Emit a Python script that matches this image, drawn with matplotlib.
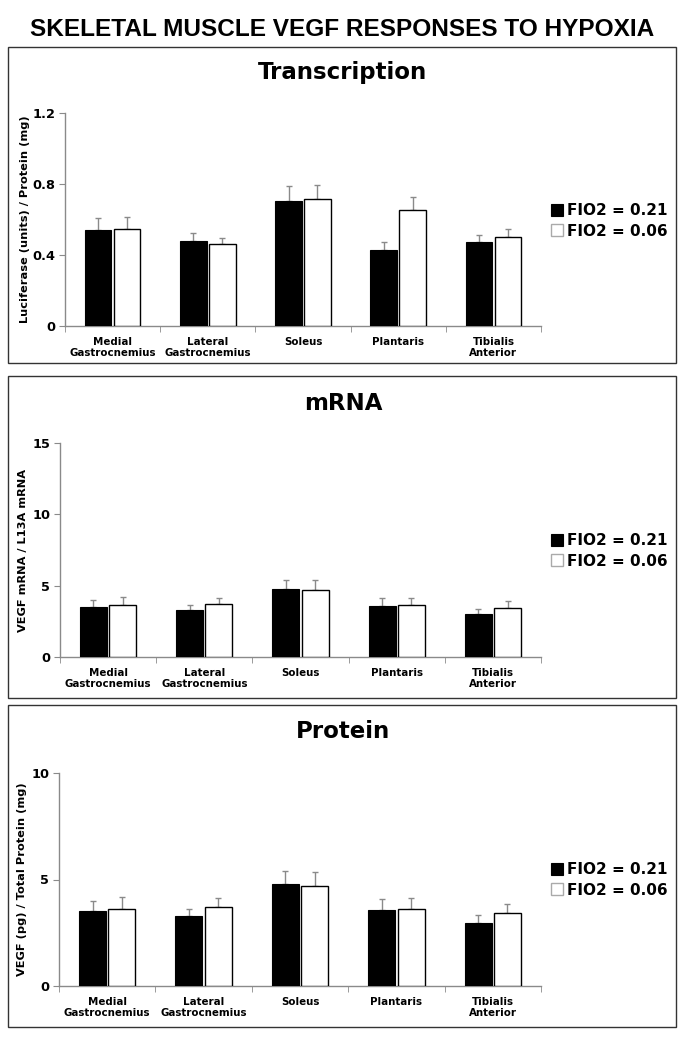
import matplotlib
matplotlib.use("Agg")
import matplotlib.pyplot as plt
from matplotlib.patches import Patch, Rectangle
import numpy as np

# ---------------- data ----------------
muscles = ["Medial\nGastrocnemius", "Lateral\nGastrocnemius", "Soleus", "Plantaris", "Tibialis\nAnterior"]
series_labels = ["FIO2 = 0.21", "FIO2 = 0.06"]

transcription_normoxia = [0.542, 0.480, 0.703, 0.427, 0.474]
transcription_normoxia_err = [0.064, 0.044, 0.088, 0.045, 0.041]
transcription_hypoxia = [0.545, 0.461, 0.718, 0.656, 0.500]
transcription_hypoxia_err = [0.070, 0.036, 0.074, 0.073, 0.045]

mrna_normoxia = [3.51, 3.32, 4.80, 3.60, 3.00]
mrna_normoxia_err = [0.49, 0.35, 0.63, 0.51, 0.37]
mrna_hypoxia = [3.63, 3.74, 4.73, 3.63, 3.44]
mrna_hypoxia_err = [0.58, 0.42, 0.68, 0.54, 0.47]

protein_normoxia = [3.50, 3.28, 4.80, 3.59, 2.98]
protein_normoxia_err = [0.47, 0.34, 0.60, 0.50, 0.36]
protein_hypoxia = [3.61, 3.70, 4.70, 3.61, 3.41]
protein_hypoxia_err = [0.58, 0.45, 0.67, 0.53, 0.45]

main_title = "SKELETAL MUSCLE VEGF RESPONSES TO HYPOXIA"
panel_titles = ["Transcription", "mRNA", "Protein"]
y_labels = ["Luciferase (units) / Protein (mg)", "VEGF mRNA / L13A mRNA", "VEGF (pg) / Total Protein (mg)"]
y_ticks = [[0, 0.4, 0.8, 1.2], [0, 5, 10, 15], [0, 5, 10]]
y_ticklabels = [["0", "0.4", "0.8", "1.2"], ["0", "5", "10", "15"], ["0", "5", "10"]]

# ---------------- layout ----------------
W, H = 684, 1050
fig = plt.figure(figsize=(W / 100, H / 100), dpi=100)
fig.patch.set_facecolor("white")

def fx(x):
    return x / W

def fy(y):
    return 1 - y / H

PF = "DejaVu Sans"
GRAY = "#8a8a8a"

fig.text(fx(342), fy(29), main_title, ha="center", va="center",
         fontsize=17.6, fontweight="bold", family="Liberation Sans")

panels = [
    dict(box=(8, 47, 676, 363), ax=(65, 113, 541, 326), title_y=73, legend_y=221, ylab_x=25),
    dict(box=(8, 376, 676, 698), ax=(60, 443, 541, 657), title_y=403, legend_y=551, ylab_x=23),
    dict(box=(8, 705, 676, 1027), ax=(59, 773, 541, 986), title_y=732, legend_y=880, ylab_x=22),
]
data = [
    (transcription_normoxia, transcription_normoxia_err, transcription_hypoxia, transcription_hypoxia_err),
    (mrna_normoxia, mrna_normoxia_err, mrna_hypoxia, mrna_hypoxia_err),
    (protein_normoxia, protein_normoxia_err, protein_hypoxia, protein_hypoxia_err),
]

x = np.arange(len(muscles))
bw = 0.28
off = 0.152

for i, p in enumerate(panels):
    bx0, by0, bx1, by1 = p["box"]
    fig.patches.append(Rectangle((fx(bx0), fy(by1)), fx(bx1 - bx0), (by1 - by0) / H,
                                 transform=fig.transFigure, fill=False,
                                 edgecolor="#333333", linewidth=1.0))
    x0, y0, x1, y1 = p["ax"]
    ax = fig.add_axes([fx(x0), fy(y1), fx(x1 - x0), (y1 - y0) / H])
    n, ne, h, he = data[i]
    zeros = [0] * len(muscles)
    ax.bar(x - off, n, bw, color="black", edgecolor="black", linewidth=0.8, zorder=3)
    ax.bar(x + off, h, bw, color="white", edgecolor="black", linewidth=1.0, zorder=3)
    ax.errorbar(x - off, n, yerr=[zeros, ne], fmt="none", ecolor=GRAY, elinewidth=1.0,
                capsize=2, capthick=1.0, zorder=2)
    ax.errorbar(x + off, h, yerr=[zeros, he], fmt="none", ecolor=GRAY, elinewidth=1.0,
                capsize=2, capthick=1.0, zorder=2)
    ax.set_xlim(-0.5, len(muscles) - 0.5)
    ax.set_ylim(y_ticks[i][0], y_ticks[i][-1])
    ax.set_yticks(y_ticks[i])
    ax.set_yticklabels(y_ticklabels[i], fontsize=9.3, fontweight="bold", family=PF)
    ax.set_xticks(x)
    ax.set_xticklabels(muscles, fontsize=7.4, fontweight="bold", family=PF, linespacing=1.15)
    ax.set_xticks(np.arange(len(muscles) + 1) - 0.5, minor=True)
    ax.tick_params(axis="x", which="major", length=0, pad=8)
    ax.tick_params(axis="x", which="minor", length=4, color=GRAY, direction="out")
    ax.tick_params(axis="y", length=4, color=GRAY, direction="out", pad=3)
    for s in ["top", "right"]:
        ax.spines[s].set_visible(False)
    for s in ["left", "bottom"]:
        ax.spines[s].set_color(GRAY)
        ax.spines[s].set_linewidth(1.0)
    ax.set_facecolor("white")

    fig.text(fx(343), fy(p["title_y"]), panel_titles[i], ha="center", va="center",
             fontsize=16.5, fontweight="bold", family=PF)
    fig.text(fx(p["ylab_x"]), fy((y0 + y1) / 2), y_labels[i], ha="center", va="center",
             rotation=90, fontsize=8.2, fontweight="bold", family=PF)

    handles = [Patch(facecolor="black", edgecolor="black", linewidth=0.8),
               Patch(facecolor="white", edgecolor="#aaaaaa", linewidth=1.0)]
    fig.legend(handles, series_labels, loc="center left",
               bbox_to_anchor=(fx(551), fy(p["legend_y"])), bbox_transform=fig.transFigure,
               frameon=False, borderpad=0, borderaxespad=0, handlelength=0.8,
               handleheight=0.85, handletextpad=0.25, labelspacing=0.35,
               prop=dict(family=PF, weight="bold", size=11))

fig.savefig("out.png", dpi=100, facecolor="white")
